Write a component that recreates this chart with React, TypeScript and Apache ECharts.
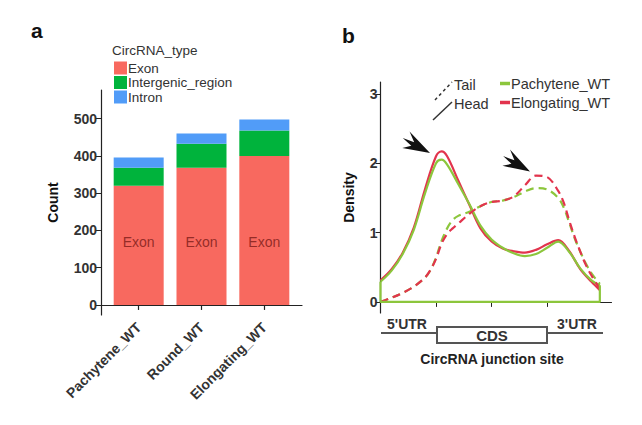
import React, { useEffect, useRef } from "react";
import * as echarts from "echarts";

// ---------- Panel a data ----------
const categories = ["Pachytene_WT", "Round_WT", "Elongating_WT"];
const exonCounts = [320, 368, 400];
const intergenicCounts = [48, 65, 68];
const intronCounts = [28, 27, 30];
const countTicks = [0, 100, 200, 300, 400, 500];
const exonLabelY = 170;

// ---------- Panel b data (x: junction position, y: density) ----------
const headPachytene: [number, number][] = [
  [0, 0.29], [0.2, 0.45], [0.4, 0.69], [0.6, 1.04], [0.8, 1.56], [1.0, 2.0], [1.1, 2.05],
  [1.2, 1.98], [1.4, 1.7], [1.6, 1.41], [1.8, 1.1], [2.0, 0.9], [2.2, 0.78], [2.4, 0.7],
  [2.6, 0.66], [2.8, 0.69], [3.0, 0.78], [3.2, 0.87], [3.4, 0.72], [3.6, 0.48], [3.8, 0.31],
  [3.95, 0.24],
];
const headElongating: [number, number][] = [
  [0, 0.31], [0.2, 0.47], [0.4, 0.71], [0.6, 1.07], [0.8, 1.62], [1.0, 2.1], [1.1, 2.17],
  [1.2, 2.1], [1.4, 1.75], [1.6, 1.4], [1.8, 1.06], [2.0, 0.87], [2.2, 0.77], [2.4, 0.73],
  [2.6, 0.71], [2.8, 0.75], [3.0, 0.83], [3.2, 0.89], [3.4, 0.73], [3.6, 0.47], [3.8, 0.29],
  [3.95, 0.17],
];
const tailPachytene: [number, number][] = [
  [0, 0.0], [0.2, 0.06], [0.4, 0.13], [0.6, 0.22], [0.8, 0.35], [0.9, 0.46], [1.0, 0.64],
  [1.1, 0.88], [1.2, 1.06], [1.3, 1.18], [1.4, 1.24], [1.6, 1.3], [1.8, 1.38], [2.0, 1.44],
  [2.2, 1.46], [2.4, 1.51], [2.6, 1.59], [2.8, 1.64], [3.0, 1.62], [3.2, 1.5], [3.3, 1.36],
  [3.4, 1.14], [3.5, 0.91], [3.6, 0.72], [3.7, 0.55], [3.8, 0.41], [3.95, 0.26],
];
const tailElongating: [number, number][] = [
  [0, 0.0], [0.2, 0.06], [0.4, 0.13], [0.6, 0.22], [0.8, 0.35], [0.9, 0.46], [1.0, 0.62],
  [1.1, 0.84], [1.2, 0.98], [1.3, 1.06], [1.4, 1.13], [1.6, 1.27], [1.8, 1.38], [2.0, 1.44],
  [2.2, 1.46], [2.4, 1.52], [2.6, 1.68], [2.8, 1.82], [3.0, 1.8], [3.2, 1.6], [3.3, 1.43],
  [3.4, 1.17], [3.5, 0.93], [3.6, 0.72], [3.7, 0.53], [3.8, 0.38], [3.95, 0.19],
];
const densityOutline: [number, number][] = [[0, 0.29], [0, 0], [3.95, 0], [3.95, 0.24]];
const densityTicks = [0, 1, 2, 3];
const junctionTicks = [0, 1, 2, 3];

const FONT = "'Liberation Sans', Arial, sans-serif";
const EXON = "#F8695F";
const INTERGENIC = "#00B33C";
const INTRON = "#519CF8";
const GREEN = "#8CC63C";
const RED = "#E2344D";
const AXIS = "#222";

const arrowPts = [[0, 0], [-28, -10], [-19, -2.5], [-31, -1], [-20, 2], [-27, 8]];

function txt(text: string, x: number, y: number, opts: any = {}) {
  const align = opts.align || "left";
  const va = opts.va || "middle";
  return {
    type: "text",
    x,
    y,
    style: {
      text,
      fill: opts.color || "#222",
      fontFamily: FONT,
      fontSize: opts.size || 14,
      fontWeight: opts.bold ? "bold" : "normal",
      align,
      verticalAlign: va,
      textAlign: align,
      textVerticalAlign: va,
    },
  };
}

export default function App() {
  const ref = useRef<HTMLDivElement>(null);
  useEffect(() => {
    if (!ref.current) return;
    const chart = echarts.init(ref.current, undefined, { renderer: "svg" });
    const axisLine = { show: true, lineStyle: { color: AXIS, width: 1.2 } };
    const smoothLine = { type: "line", xAxisIndex: 1, yAxisIndex: 1, smooth: 0.35, symbol: "none" };
    const option: any = {
      animation: false,
      backgroundColor: "#fff",
      textStyle: { fontFamily: FONT },
      grid: [
        { left: 107.28, top: 90, width: 188.44, height: 225 }, // bars
        { left: 380.5, top: 82, width: 231, height: 231 }, // density
        { left: 101, top: 90, width: 201, height: 225 }, // frame of panel a
      ],
      xAxis: [
        {
          type: "category", gridIndex: 0, data: categories, boundaryGap: true,
          axisLine: { show: false }, splitLine: { show: false },
          axisTick: { show: true, alignWithLabel: true, length: 5, lineStyle: { color: AXIS, width: 1.2 } },
          axisLabel: {
            rotate: 45, margin: 10, interval: 0,
            color: "#333", fontWeight: "bold", fontSize: 14, fontFamily: FONT,
          },
        },
        {
          type: "value", gridIndex: 1, min: 0, max: 4.16,
          axisLine, splitLine: { show: false },
          axisTick: { show: true, length: 5, customValues: junctionTicks, lineStyle: { color: AXIS } },
          axisLabel: { show: false },
        },
        {
          type: "value", gridIndex: 2, min: 0.4, max: 3.6,
          axisLine, splitLine: { show: false }, axisTick: { show: false }, axisLabel: { show: false },
        },
      ],
      yAxis: [
        { type: "value", gridIndex: 0, min: -27, max: 577, show: false, splitLine: { show: false } },
        {
          type: "value", gridIndex: 1, min: -0.16, max: 3.17,
          axisLine, splitLine: { show: false },
          axisTick: { show: true, length: 5, customValues: densityTicks, lineStyle: { color: AXIS } },
          axisLabel: { customValues: densityTicks, margin: 3, color: "#333", fontWeight: "bold", fontSize: 14, fontFamily: FONT },
          name: "Density", nameLocation: "middle", nameGap: 25,
          nameTextStyle: { color: "#111", fontWeight: "bold", fontSize: 14, fontFamily: FONT },
        },
        {
          type: "value", gridIndex: 2, min: -27, max: 577,
          axisLine, splitLine: { show: false },
          axisTick: { show: true, length: 5, customValues: countTicks, lineStyle: { color: AXIS } },
          axisLabel: { customValues: countTicks, margin: 4, color: "#333", fontWeight: "bold", fontSize: 14, fontFamily: FONT },
          name: "Count", nameLocation: "middle", nameGap: 41,
          nameTextStyle: { color: "#111", fontWeight: "bold", fontSize: 14, fontFamily: FONT },
        },
      ],
      legend: [
        {
          data: ["Exon", "Intergenic_region", "Intron"],
          orient: "vertical", left: 114, top: 61, padding: 0,
          icon: "rect", itemWidth: 13, itemHeight: 13, itemGap: 0.5,
          textStyle: { color: "#333", fontSize: 13.5, fontFamily: FONT, padding: [0, 0, 0, -4] },
          selectedMode: false,
        },
        {
          data: [
            { name: "Pachytene_WT", itemStyle: { color: GREEN, borderWidth: 0 } },
            { name: "Elongating_WT", itemStyle: { color: RED, borderWidth: 0 } },
          ],
          orient: "vertical", left: 500, top: 76, padding: 0,
          icon: "rect", itemWidth: 10, itemHeight: 3.5, itemGap: 4,
          textStyle: { color: "#333", fontSize: 14.5, fontFamily: FONT, padding: [0, 0, 0, -4] },
          selectedMode: false,
        },
      ],
      series: [
        {
          name: "Exon", type: "bar", xAxisIndex: 0, yAxisIndex: 0, stack: "count", barWidth: 50,
          itemStyle: { color: EXON }, data: exonCounts,
        },
        {
          name: "Intergenic_region", type: "bar", xAxisIndex: 0, yAxisIndex: 0, stack: "count", barWidth: 50,
          itemStyle: { color: INTERGENIC }, data: intergenicCounts,
        },
        {
          name: "Intron", type: "bar", xAxisIndex: 0, yAxisIndex: 0, stack: "count", barWidth: 50,
          itemStyle: { color: INTRON }, data: intronCounts,
        },
        {
          name: "exonText", type: "scatter", xAxisIndex: 0, yAxisIndex: 0, symbolSize: 0, silent: true,
          data: categories.map((c) => [c, exonLabelY]),
          label: { show: true, position: "inside", formatter: "Exon", color: "#7A1B18", fontSize: 14, fontFamily: FONT },
        },
        {
          ...smoothLine, name: "Elongating_WT", data: headElongating,
          lineStyle: { color: RED, width: 2.2 }, itemStyle: { color: RED },
        },
        {
          ...smoothLine, name: "Pachytene_WT", data: headPachytene,
          lineStyle: { color: GREEN, width: 2.2 }, itemStyle: { color: GREEN },
        },
        {
          ...smoothLine, name: "Pachytene_WT", data: tailPachytene,
          lineStyle: { color: GREEN, width: 2.2, type: [8, 5] }, itemStyle: { color: GREEN },
        },
        {
          ...smoothLine, name: "Elongating_WT", data: tailElongating,
          lineStyle: { color: RED, width: 2.2, type: [8, 5] }, itemStyle: { color: RED },
        },
        {
          name: "outline", type: "line", xAxisIndex: 1, yAxisIndex: 1, data: densityOutline,
          symbol: "none", lineStyle: { color: GREEN, width: 2.2 }, silent: true,
        },
      ],
      graphic: [
        txt("a", 31, 41, { bold: true, size: 21, va: "bottom", color: "#111" }),
        txt("b", 342, 46, { bold: true, size: 21, va: "bottom", color: "#111" }),
        txt("CircRNA_type", 112, 50, { size: 13.5, color: "#333" }),
        // Head / Tail line-type key
        { type: "line", shape: { x1: 435, y1: 100, x2: 452, y2: 82 }, style: { stroke: "#333", lineWidth: 1.5, lineDash: [3, 3] } },
        { type: "line", shape: { x1: 433, y1: 120, x2: 452, y2: 102 }, style: { stroke: "#333", lineWidth: 1.5 } },
        txt("Tail", 454, 85, { size: 14.5, color: "#333" }),
        txt("Head", 454, 103.5, { size: 14.5, color: "#333" }),
        // arrows
        { type: "polygon", x: 430, y: 153, rotation: -0.47, shape: { points: arrowPts }, style: { fill: "#111" } },
        { type: "polygon", x: 530, y: 171.5, rotation: -0.49, shape: { points: arrowPts }, style: { fill: "#111" } },
        // gene model
        { type: "line", shape: { x1: 381, y1: 333, x2: 437, y2: 333 }, style: { stroke: "#555", lineWidth: 2 } },
        { type: "line", shape: { x1: 547, y1: 333, x2: 603, y2: 333 }, style: { stroke: "#555", lineWidth: 2 } },
        { type: "rect", shape: { x: 437, y: 327, width: 110, height: 16 }, style: { fill: "#fff", stroke: "#555", lineWidth: 2 } },
        txt("5'UTR", 407, 331, { bold: true, size: 14, va: "bottom", align: "center", color: "#333" }),
        txt("3'UTR", 577, 331, { bold: true, size: 14, va: "bottom", align: "center", color: "#333" }),
        txt("CDS", 492, 335.5, { bold: true, size: 15, align: "center", color: "#333" }),
        txt("CircRNA junction site", 492, 359, { bold: true, size: 14, align: "center", color: "#222" }),
      ],
    };
    chart.setOption(option);
    return () => chart.dispose();
  }, []);
  return (
    <div
      ref={ref}
      style={{ position: "fixed", left: 0, top: 0, width: 642, height: 425, background: "#fff" }}
    />
  );
}
